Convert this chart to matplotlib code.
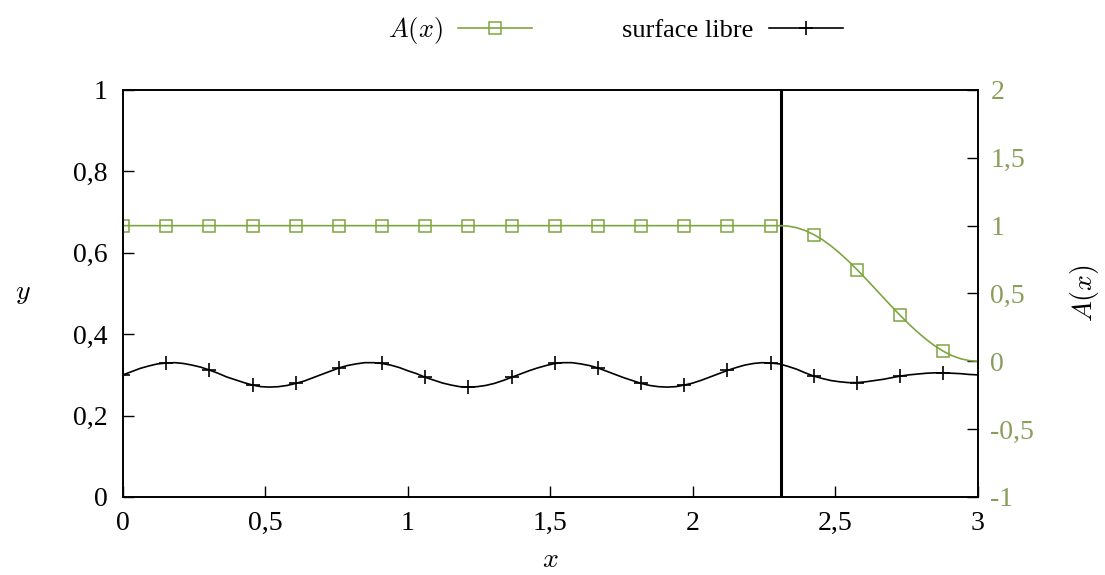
import numpy as np
import matplotlib
matplotlib.use('Agg')
import matplotlib.pyplot as plt
from matplotlib.ticker import FuncFormatter

plt.rcParams['font.family'] = ['Liberation Serif', 'DejaVu Serif']
plt.rcParams['mathtext.fontset'] = 'cm'

# sample points (100 points across the domain, markers on every 5th)
x = np.linspace(0, 3, 100)

# free surface height y(x)
surface = [
    0.300, 0.308, 0.316, 0.322, 0.327, 0.329, 0.330, 0.328, 0.324, 0.319,
    0.312, 0.304, 0.295, 0.288, 0.281, 0.275, 0.271, 0.270, 0.271, 0.274,
    0.279, 0.285, 0.293, 0.301, 0.309, 0.317, 0.323, 0.327, 0.330, 0.330,
    0.328, 0.324, 0.318, 0.310, 0.303, 0.294, 0.287, 0.280, 0.275, 0.271,
    0.270, 0.271, 0.274, 0.279, 0.286, 0.294, 0.302, 0.310, 0.317, 0.323,
    0.328, 0.330, 0.330, 0.327, 0.323, 0.317, 0.309, 0.301, 0.293, 0.286,
    0.279, 0.274, 0.271, 0.270, 0.271, 0.275, 0.280, 0.287, 0.295, 0.303,
    0.311, 0.318, 0.324, 0.328, 0.330, 0.329, 0.327, 0.321, 0.314, 0.305,
    0.297, 0.291, 0.286, 0.283, 0.281, 0.281, 0.283, 0.286, 0.289, 0.293,
    0.297, 0.300, 0.302, 0.304, 0.305, 0.305, 0.304, 0.303, 0.301, 0.300,
]

# damping function A(x), constant 1 up to the vertical line
A = [1.0] * 77 + [
    0.997, 0.985, 0.964, 0.934, 0.896, 0.850, 0.797, 0.739, 0.676, 0.610,
    0.542, 0.473, 0.405, 0.338, 0.275, 0.216, 0.162, 0.114, 0.074, 0.042,
    0.019, 0.005, 0.000,
]

x_limit = 2.31
green = '#7fa540'
tick_green = '#8a9e5c'

comma = FuncFormatter(lambda v, p: ('%g' % v).replace('.', ','))

fig = plt.figure(figsize=(11.05, 5.75), dpi=100)
ax = fig.add_axes([0.1113, 0.1357, 0.7737, 0.7078])
ax2 = ax.twinx()

ax.plot(x, surface, color='black', lw=1.2, marker='+', markersize=10,
        markeredgewidth=1.2, markevery=5, label='surface libre', zorder=3)
ax2.plot(x, A, color=green, lw=1.2, marker='s', markersize=8,
         markerfacecolor='none', markeredgewidth=1.1, markevery=5,
         label='$A(x)$')
ax.axvline(x_limit, color='black', lw=2.2, zorder=4)

ax.set_xlim(0, 3)
ax.set_ylim(0, 1)
ax2.set_ylim(-1, 2)
ax.set_xticks(np.arange(0, 3.01, 0.5))
ax.set_yticks(np.arange(0, 1.01, 0.2))
ax2.set_yticks(np.arange(-1, 2.01, 0.5))
for a in (ax, ax2):
    a.xaxis.set_major_formatter(comma)
    a.yaxis.set_major_formatter(comma)
    for s in a.spines.values():
        s.set_linewidth(1.2)

ax.tick_params(axis='both', direction='in', length=8, width=1.0,
               labelsize=20, top=False, right=False)
ax.tick_params(axis='x', pad=10)
ax.tick_params(axis='y', pad=11)
ax2.tick_params(axis='y', direction='in', length=8, width=1.0,
                labelsize=20, pad=9, labelcolor=tick_green)

ax.set_xlabel('$x$', fontsize=20, labelpad=9)
ax.set_ylabel('$y$', fontsize=20, rotation=0, labelpad=36, va='center')
ax2.set_ylabel('$A(x)$', fontsize=20, labelpad=24)

h1, l1 = ax2.get_legend_handles_labels()
h2, l2 = ax.get_legend_handles_labels()
fig.legend(h1 + h2, l1 + l2, loc='upper center', bbox_to_anchor=(0.557, 1.015),
           ncol=2, frameon=False, markerfirst=False, fontsize=19,
           handlelength=2.8, handletextpad=0.6, columnspacing=3.4)

fig.savefig('out.png', dpi=100)
